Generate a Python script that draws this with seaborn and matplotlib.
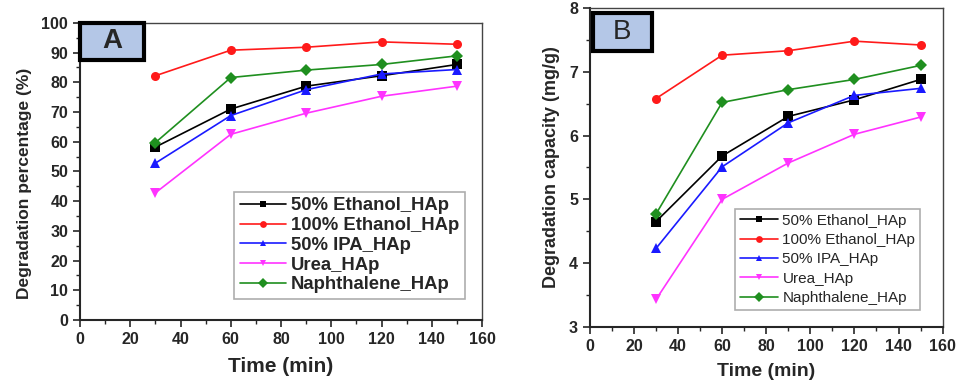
import numpy as np
import pandas as pd
import seaborn as sns
import matplotlib.pyplot as plt
from matplotlib.ticker import MultipleLocator
from matplotlib.patches import Rectangle

# Datos
tiempo = [30, 60, 90, 120, 150]
series = ['50% Ethanol_HAp', '100% Ethanol_HAp', '50% IPA_HAp', 'Urea_HAp', 'Naphthalene_HAp']

# Panel A: porcentaje de degradación (%)
pct_etanol50 = [58.2, 71.0, 78.7, 82.2, 86.0]
pct_etanol100 = [82.2, 90.8, 91.8, 93.6, 92.8]
pct_ipa50 = [52.8, 68.8, 77.5, 82.8, 84.3]
pct_urea = [42.8, 62.5, 69.6, 75.3, 78.7]
pct_naftaleno = [59.7, 81.6, 84.1, 86.0, 88.9]

# Panel B: capacidad de degradación (mg/g)
cap_etanol50 = [4.65, 5.68, 6.30, 6.56, 6.88]
cap_etanol100 = [6.58, 7.26, 7.33, 7.48, 7.42]
cap_ipa50 = [4.23, 5.51, 6.20, 6.63, 6.74]
cap_urea = [3.43, 5.00, 5.57, 6.02, 6.29]
cap_naftaleno = [4.77, 6.52, 6.72, 6.88, 7.10]

colores = ['#000000', '#ff1a1a', '#1a1aff', '#ff33ff', '#1f8f1f']
marcadores = ['s', 'o', '^', 'v', 'D']


def armar_df(valores):
    return pd.DataFrame({
        'Tiempo': tiempo * len(series),
        'Valor': np.concatenate(valores),
        'Serie': np.repeat(series, len(tiempo))
    })


df_a = armar_df([pct_etanol50, pct_etanol100, pct_ipa50, pct_urea, pct_naftaleno])
df_b = armar_df([cap_etanol50, cap_etanol100, cap_ipa50, cap_urea, cap_naftaleno])

sns.set_style('ticks')
plt.rcParams['font.family'] = ['Liberation Sans', 'DejaVu Sans']

fig = plt.figure(figsize=(9.56, 3.81), dpi=100)
ax_a = fig.add_axes([0.0837, 0.160, 0.4205, 0.780])
ax_b = fig.add_axes([0.617, 0.142, 0.369, 0.837])


def dibujar(ax, df, ylim, ymaj, ymin, ylabel, ylab_pos, letra, caja, letra_bold,
            leg_bbox, leg_size, leg_bold, leg_esp, xl_size, yl_size):
    sns.lineplot(data=df, x='Tiempo', y='Valor', hue='Serie', style='Serie',
                 palette=colores, markers=marcadores, dashes=False,
                 markersize=6.5, markeredgewidth=0, linewidth=1.2, ax=ax)
    ax.set_xlim(0, 160)
    ax.set_ylim(*ylim)
    ax.xaxis.set_major_locator(MultipleLocator(20))
    ax.xaxis.set_minor_locator(MultipleLocator(10))
    ax.yaxis.set_major_locator(MultipleLocator(ymaj))
    ax.yaxis.set_minor_locator(MultipleLocator(ymin))
    ax.tick_params(which='major', direction='out', length=5, width=1.2,
                   labelsize=11.5)
    ax.tick_params(which='minor', direction='out', length=3, width=1)
    for lbl in ax.get_xticklabels() + ax.get_yticklabels():
        lbl.set_fontweight('bold')
    for s in ['left', 'bottom']:
        ax.spines[s].set_linewidth(1.5)
    for s in ['top', 'right']:
        ax.spines[s].set_linewidth(1.0)
        ax.spines[s].set_color('#444444')
    ax.set_xlabel('Time (min)', fontsize=xl_size, fontweight='bold', labelpad=7)
    ax.set_ylabel(ylabel, fontsize=yl_size, fontweight='bold')
    ax.yaxis.set_label_coords(*ylab_pos)

    # Etiqueta del panel
    ax.add_patch(Rectangle((caja[0], caja[1]), caja[2], caja[3], transform=ax.transAxes,
                           facecolor='#b4c7e7', edgecolor='black', linewidth=3,
                           clip_on=False, zorder=5))
    ax.text(caja[0] + caja[2] / 2, caja[1] + caja[3] / 2, letra, transform=ax.transAxes,
            ha='center', va='center', fontsize=20,
            fontweight='bold' if letra_bold else 'normal', zorder=6)

    leg = ax.legend(loc='lower left', bbox_to_anchor=leg_bbox, frameon=True,
                    fancybox=False, edgecolor='#999999', fontsize=leg_size,
                    handlelength=2.5, borderpad=0.3, labelspacing=leg_esp,
                    handletextpad=0.3, markerscale=0.75)
    leg.get_frame().set_linewidth(1.2)
    if leg_bold:
        for t in leg.get_texts():
            t.set_fontweight('bold')


dibujar(ax_a, df_a, (0, 100), 10, 5, 'Degradation percentage (%)', (-0.12, 0.46), 'A',
        (0.0, 0.875, 0.16, 0.125), True, (0.36, 0.04), 13.3, True, 0.15, 15, 12.5)
dibujar(ax_b, df_b, (3, 8), 1, 0.5, 'Degradation capacity (mg/g)', (-0.085, 0.5), 'B',
        (0.01, 0.865, 0.165, 0.12), False, (0.39, 0.03), 11, False, 0.35, 14, 13)

fig.savefig('out.png', dpi=100)
